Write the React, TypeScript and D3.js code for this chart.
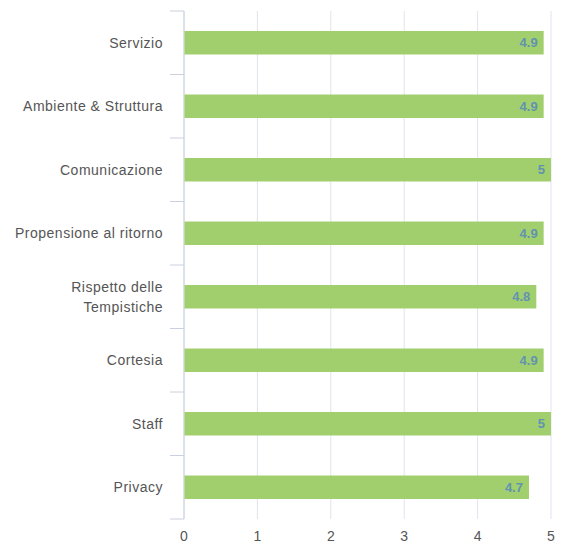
import React from "react";
import * as d3 from "d3";

const categories: string[][] = [
  ["Servizio"],
  ["Ambiente & Struttura"],
  ["Comunicazione"],
  ["Propensione al ritorno"],
  ["Rispetto delle", "Tempistiche"],
  ["Cortesia"],
  ["Staff"],
  ["Privacy"],
];
const values: number[] = [4.9, 4.9, 5, 4.9, 4.8, 4.9, 5, 4.7];
const xTicks: number[] = [0, 1, 2, 3, 4, 5];

const W = 561;
const H = 546;
const M = { left: 184, right: 10, top: 11, bottom: 27 };

export default function App() {
  const x = d3.scaleLinear().domain([0, 5]).range([M.left, 551]);
  const keys = categories.map((_, i) => String(i));
  const y = d3
    .scaleBand<string>()
    .domain(keys)
    .range([M.top, H - M.bottom])
    .paddingInner(0.63)
    .paddingOuter(0.315);
  const step = y.step();
  const boundaries = d3.range(categories.length + 1).map((i) => M.top + i * step);
  const font = "'Liberation Sans', Arial, Helvetica, sans-serif";

  return (
    <svg
      width={W}
      height={H}
      style={{ position: "absolute", left: 0, top: 0, background: "#fff" }}
      fontFamily={font}
    >
      {xTicks.map((t) => (
        <line
          key={"g" + t}
          x1={x(t)}
          x2={x(t)}
          y1={M.top}
          y2={H - M.bottom}
          stroke="#dfe4ec"
          strokeWidth={1}
        />
      ))}
      {boundaries.map((b, i) => (
        <line key={"tk" + i} x1={170} x2={M.left} y1={b} y2={b} stroke="#c9d1de" strokeWidth={1} />
      ))}
      <line x1={M.left} x2={M.left} y1={M.top} y2={H - M.bottom} stroke="#c9d1de" strokeWidth={1} />
      {values.map((v, i) => {
        const yy = y(String(i))!;
        return (
          <g key={"b" + i}>
            <rect x={x(0) + 0.5} y={yy} width={x(v) - x(0) - 0.5} height={y.bandwidth()} fill="#a2cf6e" />
            <text
              x={x(v) - 6}
              y={yy + y.bandwidth() / 2}
              dy="0.35em"
              textAnchor="end"
              fontSize={13}
              fontWeight="bold"
              fill="#6193b0"
            >
              {String(v)}
            </text>
          </g>
        );
      })}
      {categories.map((lines, i) => {
        const cy = y(String(i))! + y.bandwidth() / 2;
        const lh = 20;
        const start = cy - ((lines.length - 1) * lh) / 2;
        return (
          <text key={"c" + i} textAnchor="end" fontSize={14} letterSpacing={0.5} fill="#555">
            {lines.map((l, j) => (
              <tspan key={j} x={163} y={start + j * lh} dy="0.35em">
                {l}
              </tspan>
            ))}
          </text>
        );
      })}
      {xTicks.map((t) => (
        <text key={"xt" + t} x={x(t)} y={541} textAnchor="middle" fontSize={14} fill="#555">
          {t}
        </text>
      ))}
    </svg>
  );
}
